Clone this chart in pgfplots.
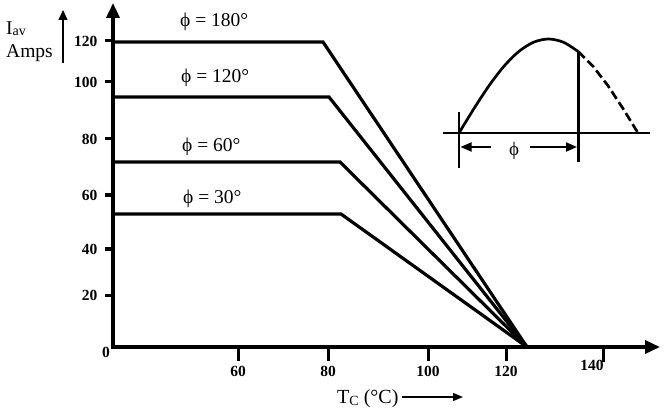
\documentclass[border=0pt]{standalone}
\usepackage{fontspec}
\setmainfont{Liberation Serif}
\usepackage{pgfplots}
\pgfplotsset{compat=1.18}
\usetikzlibrary{arrows.meta}

\begin{document}
\begin{tikzpicture}
% main axis: arrowed axis lines and all curves
\begin{axis}[
  x=1pt, y=1pt,
  xmin=0, xmax=547, ymin=0, ymax=344,
  axis lines=left,
  axis line style={line width=3.5pt, line cap=rect, -{Triangle[length=15pt,width=13pt]}},
  clip=false,
  xtick=\empty, ytick=\empty,
]
% main curves
\addplot[line width=3.2pt] coordinates {(0,305) (210,305) (414,0)};
\addplot[line width=3.2pt] coordinates {(0,250) (216,250) (414,0)};
\addplot[line width=3.2pt] coordinates {(0,185) (227,185) (414,0)};
\addplot[line width=3.2pt] coordinates {(0,133) (228,133) (414,0)};

\node[anchor=base west, inner sep=0, font=\fontsize{19.5}{20}\selectfont] at (axis cs:67,320) {ϕ = 180°};
\node[anchor=base west, inner sep=0, font=\fontsize{19.5}{20}\selectfont] at (axis cs:68,264) {ϕ = 120°};
\node[anchor=base west, inner sep=0, font=\fontsize{19.5}{20}\selectfont] at (axis cs:69,195) {ϕ = 60°};
\node[anchor=base west, inner sep=0, font=\fontsize{19.5}{20}\selectfont] at (axis cs:70,143) {ϕ = 30°};

% inset waveform
\addplot[line width=2.7pt] coordinates {(330,214) (537,214)};
\addplot[line width=2.7pt] coordinates {(346,235) (346,179)};
\addplot[line width=2.7pt, smooth] coordinates {(346,214) (360.9,238.3) (375.8,261) (390.75,280.5) (405.7,295.4) (420.6,304.8) (435.5,308) (450.4,304.8) (465.3,295.4)};
\addplot[line width=2.7pt, dash pattern=on 9pt off 4pt] coordinates {(465.3,295.4) (480.25,280.5) (495.2,261) (510.1,238.3) (525,214)};
\addplot[line width=2.7pt] coordinates {(465.3,295.4) (465.3,185)};
\addplot[line width=2pt, -{Triangle[length=11pt,width=9pt]}] coordinates {(378,200) (347.5,200)};
\addplot[line width=2pt, -{Triangle[length=11pt,width=9pt]}] coordinates {(417,200) (464,200)};
\node[font=\fontsize{19}{20}\selectfont] at (axis cs:401,196) {ϕ};

% tick marks
\addplot[line width=3pt] coordinates {(125,0) (125,-14)};
\addplot[line width=3pt] coordinates {(215,0) (215,-14)};
\addplot[line width=3pt] coordinates {(315,0) (315,-14)};
\addplot[line width=3pt] coordinates {(393,0) (393,-14)};
\addplot[line width=3pt] coordinates {(490,0) (490,-15)};
\addplot[line width=3pt] coordinates {(0,52) (-8,52)};
\addplot[line width=3pt] coordinates {(0,98) (-8,98)};
\addplot[line width=3pt] coordinates {(0,152) (-8,152)};
\addplot[line width=3pt] coordinates {(0,208) (-8,208)};
\addplot[line width=3pt] coordinates {(0,265) (-8,265)};
\addplot[line width=3pt] coordinates {(0,306) (-8,306)};

% axis annotations
\node[font=\bfseries\fontsize{15.5}{16}\selectfont] at (axis cs:-7,-5) {0};
\node[anchor=base west, inner sep=0, font=\fontsize{19.5}{20}\selectfont] at (axis cs:-107,312) {I\raisebox{-1pt}{\fontsize{14}{14}\selectfont av}};
\node[anchor=base west, inner sep=0, font=\fontsize{19.5}{20}\selectfont] at (axis cs:-107,289) {Amps};
\draw[line width=1.3pt, -{Triangle[length=10pt,width=9pt]}] (axis cs:-50,284) -- (axis cs:-50,337);
\node[anchor=base west, inner sep=0, font=\fontsize{20}{20}\selectfont] at (axis cs:224,-56) {T\raisebox{-2pt}{\fontsize{14}{14}\selectfont C} (°C)};
\draw[line width=1.3pt, -{Triangle[length=10pt,width=8pt]}] (axis cs:289,-50) -- (axis cs:350,-50);

\coordinate (bl) at (axis cs:-113,-63);
\coordinate (tr) at (axis cs:559,347);
\end{axis}
% x tick labels
\begin{axis}[
  x=1pt, y=1pt,
  xmin=0, xmax=520, ymin=0, ymax=320,
  axis lines=left,
  axis line style={line width=3.5pt, line cap=rect, -},
  clip=false,
  tick align=outside,
  major tick length=14pt,
  tick style={line width=3pt, black},
  xtick={125,215,315,393},
  xticklabels={60,80,100,120},
  extra x ticks={490},
  extra x tick labels={140},
  extra x tick style={tick label style={xshift=-11pt, yshift=6pt}},
  ytick=\empty,
  ticklabel style={font=\bfseries\fontsize{15.5}{16}\selectfont},
  xticklabel style={yshift=-2pt},
]
\end{axis}
% y tick labels
\begin{axis}[
  x=1pt, y=1pt,
  xmin=0, xmax=520, ymin=0, ymax=320,
  axis lines=left,
  axis line style={line width=3.5pt, line cap=rect, -},
  clip=false,
  tick align=outside,
  major tick length=8pt,
  tick style={line width=3pt, black},
  xtick=\empty,
  ytick={52,98,152,208,265,306},
  yticklabels={20,40,60,80,100,120},
  ticklabel style={font=\bfseries\fontsize{15.5}{16}\selectfont},
  yticklabel style={xshift=-4pt},
]
\end{axis}
\pgfresetboundingbox
\path (bl) rectangle (tr);
\end{tikzpicture}
\end{document}
